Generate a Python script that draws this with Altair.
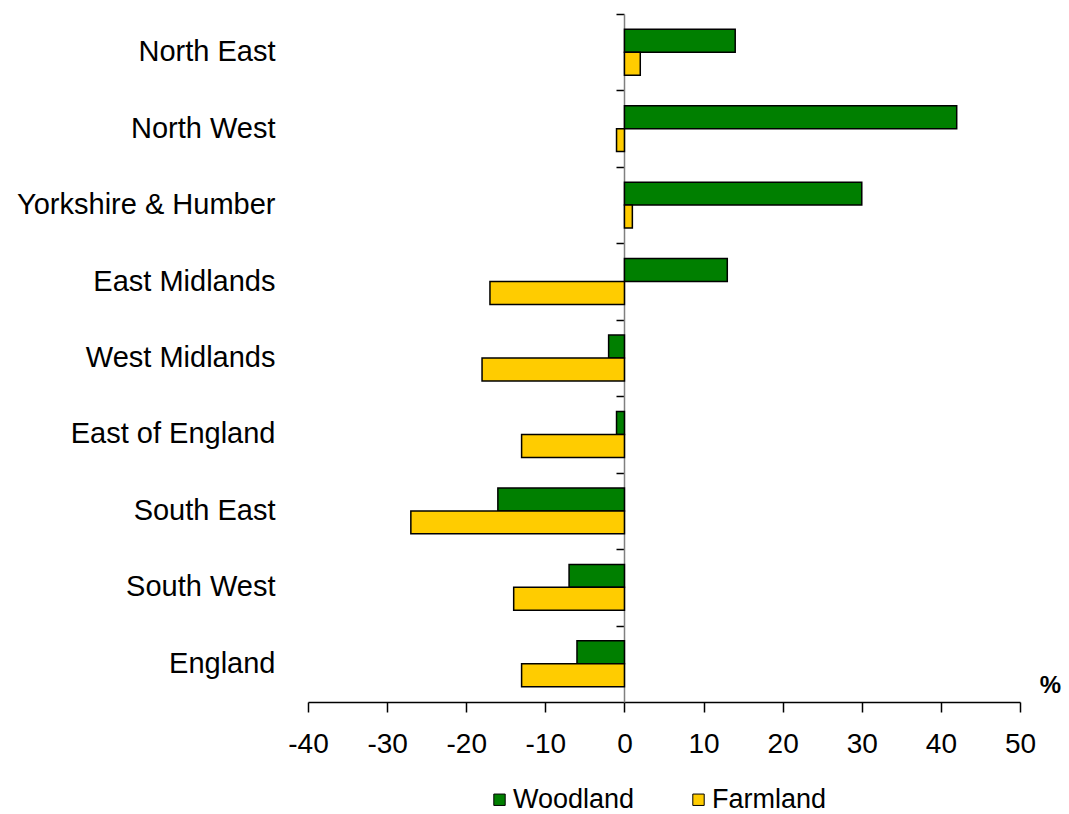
import altair as alt
import pandas as pd

regions = ["North East", "North West", "Yorkshire & Humber", "East Midlands",
           "West Midlands", "East of England", "South East", "South West", "England"]
woodland = [14, 42, 30, 13, -2, -1, -16, -7, -6]
farmland = [2, -1, 1, -17, -18, -13, -27, -14, -13]
series = ["Woodland", "Farmland"]
colors = ["#007F00", "#FFCC00"]
x_ticks = [-40, -30, -20, -10, 0, 10, 20, 30, 40, 50]

rows = []
for r, w, f in zip(regions, woodland, farmland):
    rows.append({"region": r, "series": "Woodland", "value": w})
    rows.append({"region": r, "series": "Farmland", "value": f})
df = pd.DataFrame(rows)

FONT = "Liberation Sans"
PLOT_H = 688
P_IN, P_OUT = 0.4, 0.2
step = PLOT_H / (len(regions) - P_IN + 2 * P_OUT)
half_gap = step * P_IN / 2

y_scale = alt.Scale(domain=regions, paddingInner=P_IN, paddingOuter=P_OUT)
x_scale = alt.Scale(domain=[-40, 50], nice=False)

bars = alt.Chart(df).mark_bar(stroke="black", strokeWidth=1.5).encode(
    x=alt.X("value:Q", scale=x_scale,
            axis=alt.Axis(values=x_ticks, title="%", titleX=742, titleY=-17,
                          titleAlign="center", titleBaseline="middle",
                          titleFontSize=24, titleFontWeight="bold", titleFont=FONT,
                          titleColor="black", grid=False, tickSize=10,
                          tickColor="black", domainColor="black", tickWidth=1.5,
                          domainWidth=1.5, labelFontSize=28, labelFont=FONT,
                          labelColor="black", labelPadding=18, labelFlush=False,
                          labelExpr="'' + datum.value")),
    y=alt.Y("region:N", scale=y_scale, sort=regions,
            axis=alt.Axis(title=None, domain=False, ticks=False, orient="left",
                          labelFontSize=29, labelFont=FONT, labelColor="black",
                          labelPadding=33, labelLimit=400)),
    yOffset=alt.YOffset("series:N", scale=alt.Scale(domain=series), sort=series),
    color=alt.Color("series:N", scale=alt.Scale(domain=series, range=colors),
                    legend=alt.Legend(title=None, orient="none", legendX=178, legendY=772,
                                      direction="horizontal", symbolType="square",
                                      symbolSize=130, symbolStrokeColor="black",
                                      symbolStrokeWidth=1, labelFontSize=27,
                                      labelFont=FONT, labelColor="black",
                                      columnPadding=50, labelOffset=0, padding=0)),
)

zero_axis = alt.Chart(df).mark_tick(opacity=0).encode(
    y=alt.Y("region:N", scale=y_scale, sort=regions,
            axis=alt.Axis(title=None, labels=False, orient="left", offset=-316,
                          bandPosition=0, tickOffset=-half_gap, tickSize=8,
                          tickColor="black", tickWidth=1.5, domainColor="#808080",
                          domainWidth=1.5, grid=False)),
)

chart = alt.layer(zero_axis, bars).resolve_axis(y="independent").properties(
    width=712, height=PLOT_H,
    autosize=alt.AutoSizeParams(type="none"),
    padding={"left": 308, "top": 14, "right": 49, "bottom": 112},
).configure_view(strokeWidth=0)

chart.save("out.html", embed_options={"renderer": "svg", "actions": False})
